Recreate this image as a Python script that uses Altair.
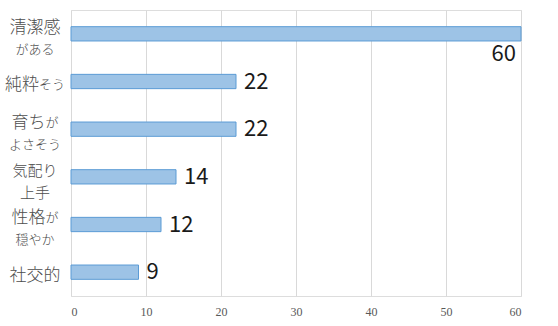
import altair as alt
import pandas as pd

categories = ["清潔感がある", "純粋そう", "育ちがよさそう", "気配り上手", "性格が穏やか", "社交的"]
values = [60, 22, 22, 14, 12, 9]

# label pieces per category: list of lines, each line a list of (text, size class)
label_lines = [
    [[("清潔感", "L")], [("がある", "S")]],
    [[("純粋", "L"), ("そう", "S")]],
    [[("育ち", "L"), ("が", "S")], [("よさそう", "S")]],
    [[("気配り", "M")], [("上手", "M")]],
    [[("性格", "L"), ("が", "S")], [("穏やか", "S")]],
    [[("社交的", "L")]],
]
x_ticks = [0, 10, 20, 30, 40, 50, 60]

SIZES = {"L": 17, "M": 15, "S": 13}
LABEL_CENTER = -36  # pixel offset from plot left
LINE_OFFSETS = {1: [11], 2: [1, 23]}

rows = []
for cat, lines in zip(categories, label_lines):
    offs = LINE_OFFSETS[len(lines)]
    for li, line in enumerate(lines):
        w = sum(len(t) * SIZES[s] for t, s in line)
        x = LABEL_CENTER - w / 2
        for t, s in line:
            rows.append({"cat": cat, "text": t, "size": SIZES[s], "px": x, "py": offs[li]})
            x += len(t) * SIZES[s]
lab_df = pd.DataFrame(rows)

df = pd.DataFrame({"cat": categories, "value": values})

yscale = alt.Scale(domain=categories, paddingInner=0.7, paddingOuter=0.35)
yenc = alt.Y("cat:N", sort=categories, scale=yscale, axis=None)

bars = alt.Chart(df).mark_bar(color="#9DC3E6", stroke="#5B9BD5", strokeWidth=1).encode(
    x=alt.X("value:Q", scale=alt.Scale(domain=[0, 60], nice=False),
            axis=alt.Axis(values=x_ticks, grid=True, gridColor="#D9D9D9", domain=False,
                          ticks=False, labelFont="Liberation Serif", labelFontSize=12,
                          labelColor="#595959", labelPadding=10, title=None)),
    y=yenc,
)

vals = alt.Chart(df).transform_joinaggregate(mx="max(value)").transform_filter(
    "datum.value < datum.mx").mark_text(
    align="left", baseline="middle", dx=8, fontSize=22, font="Noto Sans CJK JP", color="#1A1A1A"
).encode(x="value:Q", y=yenc, text="value:Q")

vals_max = alt.Chart(df).transform_joinaggregate(mx="max(value)").transform_filter(
    "datum.value == datum.mx").mark_text(
    align="right", baseline="middle", dx=-5, dy=20, fontSize=22, font="Noto Sans CJK JP", color="#1A1A1A"
).encode(x="value:Q", y=yenc, text="value:Q")

labels_parts = []
for sz in sorted(set(SIZES.values())):
    labels_parts.append(
        alt.Chart(lab_df).transform_filter(f"datum.size == {sz}").mark_text(
            align="left", baseline="middle", fontSize=sz, font="Noto Sans CJK JP",
            fontWeight=300, color="#4D4D4D"
        ).encode(
            x=alt.value(0),
            xOffset=alt.XOffset("px:Q", scale=None),
            y=yenc,
            yOffset=alt.YOffset("py:Q", scale=None),
            text="text:N",
        )
    )

chart = alt.layer(bars, vals, vals_max, *labels_parts).properties(
    width=450, height=286,
    padding={"left": 71, "top": 10, "right": 37, "bottom": 30},
    autosize="none",
).configure_view(stroke=None).configure(background="white")

chart.save("out.html", embed_options={"renderer": "svg", "actions": False})
